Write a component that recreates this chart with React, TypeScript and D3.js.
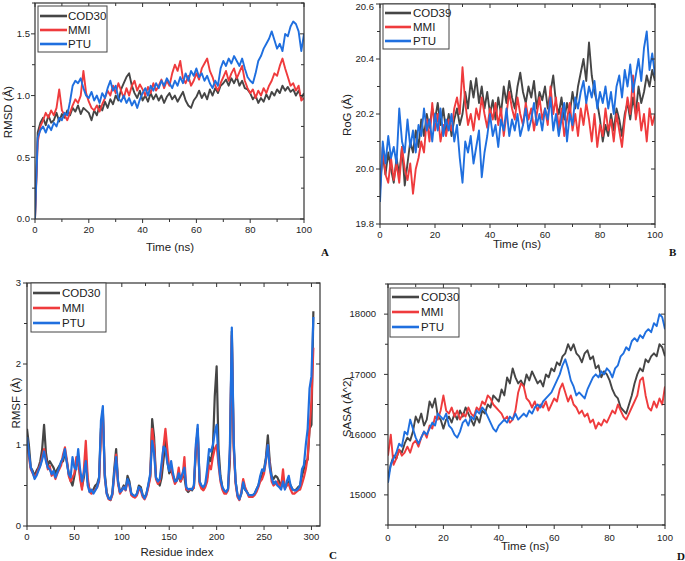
import React from "react";
import * as d3 from "d3";

// ---------- data ----------
const timeNs = d3.range(0, 101);
const residues = d3.range(0, 304, 2);

const legendA = ["COD30", "MMI", "PTU"];
const legendB = ["COD39", "MMI", "PTU"];
const legendC = ["COD30", "MMI", "PTU"];
const legendD = ["COD30", "MMI", "PTU"];

const colors = ["#454545", "#ef3b3d", "#1f6fdf"];

// RMSD (Å)
const rmsdCOD30 = [
  0.0, 0.7, 0.78, 0.82, 0.76, 0.84, 0.78, 0.8, 0.86, 0.79,
  0.85, 0.82, 0.88, 0.84, 0.9, 0.87, 0.92, 0.85, 0.9, 0.88,
  0.86, 0.8, 0.88, 0.84, 0.92, 0.88, 0.95, 0.9, 0.97, 0.93,
  1.0, 0.96, 1.05, 1.1, 1.15, 1.18, 1.08, 1.02, 0.98, 1.04,
  0.96, 1.0, 0.95, 1.02, 0.97, 1.01, 0.96, 1.0, 0.94, 0.99,
  1.02, 0.97, 1.0, 0.95, 0.99, 1.03, 0.96, 0.92, 0.9, 0.96,
  0.99, 1.04, 0.98, 1.02, 0.97, 1.05, 1.0, 1.06, 1.02, 1.08,
  1.1, 1.13, 1.08, 1.14, 1.1, 1.15, 1.08, 1.12, 1.06, 1.05,
  1.02, 0.97, 1.0, 0.94, 0.98, 0.95, 1.01, 0.97, 1.03, 1.0,
  1.05, 1.02, 1.08, 1.04, 1.07, 1.03, 1.05, 1.0, 1.04, 0.98,
  1.02,
];
const rmsdMMI = [
  0.0, 0.62, 0.75, 0.8, 0.86, 0.82, 0.88, 0.84, 0.9, 1.05,
  0.88, 0.84, 0.8, 0.86, 0.92, 0.97, 0.94, 1.0, 1.2, 1.02,
  0.95, 0.9, 0.88, 0.92, 0.87, 0.93, 0.98, 1.04, 1.0, 1.08,
  1.02, 1.1, 1.04, 0.98, 1.06, 1.0, 1.08, 1.12, 1.04, 1.09,
  1.05, 1.0, 1.07, 1.02, 1.1, 1.04, 1.08, 1.13, 1.06, 1.12,
  1.08, 1.18, 1.25, 1.2, 1.28, 1.14, 1.1, 1.16, 1.08, 1.12,
  1.18, 1.13, 1.22, 1.26, 1.3, 1.2, 1.15, 1.08, 1.04, 1.1,
  1.15, 1.2, 1.12, 1.18, 1.22, 1.14, 1.19, 1.24, 1.12, 1.06,
  1.02, 1.05, 0.98, 1.04, 1.0, 1.06, 1.02, 1.08, 1.12, 1.18,
  1.16, 1.24, 1.3, 1.22, 1.15, 1.08, 1.1, 1.04, 1.08, 0.96,
  0.98,
];
const rmsdPTU = [
  0.0, 0.66, 0.72, 0.75, 0.7, 0.76, 0.72, 0.78, 0.75, 0.82,
  0.8, 0.86, 0.84, 0.95, 1.08, 1.12, 1.1, 1.14, 1.06, 1.0,
  0.98, 1.03, 0.96, 1.0, 0.94, 1.02, 0.98, 1.06, 1.12, 1.04,
  1.08, 0.98, 0.95, 1.0, 0.94, 0.98, 0.92, 0.96, 0.9, 0.97,
  1.02, 1.06, 1.0, 1.08, 1.04, 1.1, 1.06, 1.12, 1.08, 1.14,
  1.1, 1.06, 1.12, 1.08, 1.15, 1.1, 1.18, 1.12, 1.2, 1.16,
  1.22, 1.15, 1.18, 1.12, 1.16, 1.1, 1.06, 1.12, 1.08, 1.22,
  1.28, 1.24, 1.3, 1.26, 1.32, 1.28, 1.24, 1.3, 1.22, 1.15,
  1.12, 1.1, 1.18, 1.28, 1.32, 1.38, 1.42, 1.46, 1.52, 1.45,
  1.38, 1.42, 1.36, 1.5, 1.48, 1.56, 1.6, 1.58, 1.52, 1.36,
  1.5,
];

// RoG (Å)
const rogCOD39 = [
  19.95, 20.05, 19.98, 20.06, 20.0, 19.95, 20.04, 19.98, 20.08, 19.94,
  20.02, 20.1, 20.06, 20.14, 20.08, 20.18, 20.12, 20.2, 20.15, 20.22,
  20.18, 20.24, 20.16, 20.22, 20.14, 20.2, 20.12, 20.18, 20.22, 20.16,
  20.2, 20.28, 20.22, 20.32, 20.26, 20.33, 20.24, 20.3, 20.22, 20.28,
  20.2, 20.25, 20.18, 20.26, 20.2, 20.3, 20.24, 20.32, 20.26, 20.22,
  20.3, 20.35, 20.28, 20.24, 20.3, 20.26, 20.32, 20.22, 20.28, 20.25,
  20.3, 20.22, 20.28, 20.34, 20.24, 20.2, 20.26, 20.18, 20.24, 20.2,
  20.28, 20.22, 20.3, 20.35, 20.4, 20.32, 20.46, 20.34, 20.28, 20.24,
  20.18, 20.1, 20.16, 20.12, 20.2, 20.14, 20.22, 20.18, 20.12, 20.2,
  20.24, 20.18, 20.26, 20.2, 20.3, 20.24, 20.28, 20.34, 20.3, 20.36,
  20.32,
];
const rogMMI = [
  19.92, 20.08, 19.98, 19.95, 20.04, 19.96, 20.02, 19.95, 20.08, 20.0,
  19.96, 20.02, 19.91, 20.0, 20.04, 20.1, 20.06, 20.18, 20.1, 20.24,
  20.14, 20.2, 20.1, 20.16, 20.12, 20.18, 20.14, 20.22, 20.26, 20.2,
  20.37, 20.24, 20.16, 20.2, 20.14, 20.22, 20.18, 20.26, 20.2, 20.15,
  20.22, 20.18, 20.24, 20.16, 20.22, 20.12, 20.2, 20.28, 20.22, 20.18,
  20.26, 20.2, 20.16, 20.24, 20.18, 20.22, 20.14, 20.2, 20.26, 20.18,
  20.22, 20.16, 20.3, 20.2, 20.26, 20.14, 20.22, 20.12, 20.18, 20.24,
  20.14, 20.2, 20.12, 20.22, 20.16, 20.24, 20.18, 20.1, 20.2, 20.08,
  20.16, 20.12, 20.22, 20.14, 20.18, 20.1, 20.2, 20.14, 20.08, 20.18,
  20.26, 20.2, 20.34, 20.18, 20.24, 20.14, 20.2, 20.1, 20.22, 20.16,
  20.2,
];
const rogPTU = [
  19.88, 20.1, 20.02, 20.12, 20.04, 20.08, 20.02, 20.22, 20.1, 20.06,
  20.18, 20.08, 20.14, 20.06, 20.16, 20.12, 20.22, 20.14, 20.18, 20.1,
  20.2, 20.14, 20.22, 20.12, 20.18, 20.14, 20.2, 20.1, 20.16, 20.04,
  19.95, 20.1, 20.06, 20.12, 20.02, 20.08, 20.14, 19.97, 20.06, 20.12,
  20.2, 20.12, 20.16, 20.08, 20.18, 20.14, 20.22, 20.12, 20.18, 20.14,
  20.2, 20.12, 20.16, 20.22, 20.14, 20.18, 20.24, 20.16, 20.2, 20.14,
  20.22, 20.18, 20.26, 20.14, 20.2, 20.12, 20.18, 20.24, 20.1, 20.2,
  20.16, 20.26, 20.22, 20.28, 20.32, 20.24, 20.3, 20.26, 20.32, 20.22,
  20.28, 20.24, 20.3, 20.22, 20.28, 20.2, 20.3, 20.34, 20.26, 20.36,
  20.3, 20.38, 20.28, 20.34, 20.4, 20.32, 20.44, 20.5, 20.36, 20.42,
  20.34,
];

// RMSF (Å), residues 0..302 step 2
const rmsfCOD30 = [
  1.2, 1.0, 0.72, 0.68, 0.62, 0.68, 0.72, 0.8, 0.95, 1.25,
  0.9, 0.75, 0.8, 0.76, 0.72, 0.65, 0.7, 0.74, 0.78, 0.8,
  0.9, 0.8, 0.65, 0.56, 0.5, 0.62, 0.75, 0.8, 0.62, 0.48,
  0.6, 0.85, 0.55, 0.45, 0.42, 0.45, 0.5, 0.52, 0.6, 1.2,
  1.42, 0.65, 0.42, 0.35, 0.32, 0.4, 0.7, 0.95, 0.55, 0.42,
  0.45, 0.5, 0.45, 0.62, 0.55, 0.4, 0.38, 0.36, 0.4, 0.5,
  0.48, 0.38, 0.35, 0.4, 0.5, 0.62, 1.32, 1.1, 0.6, 0.55,
  0.5, 0.6, 0.82, 1.05, 0.8, 0.65, 0.7, 0.62, 0.55, 0.58,
  0.6, 0.55, 0.62, 0.6, 0.45, 0.42, 0.45, 0.44, 0.48, 0.9,
  1.2, 0.55, 0.48, 0.45, 0.5, 0.6, 0.85, 0.8, 0.95, 1.6,
  1.97, 0.95, 0.62, 0.48, 0.42, 0.42, 0.45, 0.8, 2.4, 1.0,
  0.55, 0.38, 0.33, 0.4, 0.52, 0.45, 0.42, 0.38, 0.38, 0.38,
  0.4, 0.45, 0.5, 0.58, 0.62, 0.7, 0.85, 1.12, 0.8, 0.62,
  0.58, 0.62, 0.6, 0.55, 0.5, 0.55, 0.48, 0.5, 0.55, 0.5,
  0.45, 0.44, 0.45, 0.48, 0.5, 0.62, 0.7, 0.8, 0.82, 1.2,
  1.25, 2.65,
];
const rmsfMMI = [
  1.05, 0.85, 0.7, 0.65, 0.6, 0.64, 0.7, 0.75, 0.85, 0.95,
  0.82, 0.7, 0.74, 0.62, 0.66, 0.58, 0.65, 0.7, 0.75, 0.88,
  0.97, 0.82, 0.62, 0.55, 0.6, 0.65, 0.85, 0.85, 0.58, 0.45,
  0.7, 1.05, 0.6, 0.42, 0.4, 0.42, 0.45, 0.48, 0.55, 1.15,
  1.4, 0.6, 0.4, 0.33, 0.32, 0.38, 0.62, 0.88, 0.52, 0.4,
  0.44, 0.48, 0.44, 0.55, 0.5, 0.38, 0.36, 0.35, 0.38, 0.45,
  0.44, 0.36, 0.33, 0.38, 0.48, 0.6, 1.2, 1.0, 0.58, 0.52,
  0.55, 0.72, 0.98, 1.2, 0.95, 0.7, 0.72, 0.6, 0.52, 0.56,
  0.72, 0.55, 0.6, 0.85, 0.45, 0.44, 0.45, 0.46, 0.47, 0.95,
  1.18, 0.52, 0.46, 0.44, 0.48, 0.55, 0.75, 0.7, 0.85, 0.95,
  1.0, 0.75, 0.55, 0.45, 0.4, 0.4, 0.44, 0.9, 2.35, 0.95,
  0.52, 0.36, 0.32, 0.42, 0.58, 0.48, 0.42, 0.36, 0.36, 0.36,
  0.38, 0.42, 0.48, 0.55, 0.58, 0.65, 0.8, 1.0, 0.75, 0.55,
  0.5, 0.52, 0.55, 0.5, 0.48, 0.7, 0.46, 0.5, 0.52, 0.45,
  0.4, 0.4, 0.42, 0.44, 0.45, 0.52, 0.6, 0.7, 0.85, 1.2,
  1.55, 2.2,
];
const rmsfPTU = [
  1.1, 0.9, 0.72, 0.66, 0.58, 0.62, 0.68, 0.74, 0.82, 0.92,
  0.8, 0.72, 0.7, 0.64, 0.68, 0.6, 0.66, 0.72, 0.8, 0.84,
  0.95, 0.78, 0.64, 0.6, 0.85, 0.72, 0.7, 0.95, 0.7, 0.55,
  0.65, 0.8, 0.5, 0.42, 0.45, 0.4, 0.44, 0.48, 0.58, 1.3,
  1.48, 0.62, 0.4, 0.34, 0.33, 0.4, 0.65, 0.85, 0.55, 0.42,
  0.44, 0.48, 0.45, 0.58, 0.52, 0.4, 0.38, 0.37, 0.4, 0.48,
  0.46, 0.38, 0.34, 0.4, 0.52, 0.65, 1.05, 0.9, 0.6, 0.55,
  0.58, 0.78, 0.98, 0.95, 0.78, 0.68, 0.8, 0.65, 0.55, 0.56,
  0.65, 0.58, 0.65, 0.72, 0.48, 0.45, 0.46, 0.45, 0.5, 1.0,
  1.25, 0.55, 0.5, 0.48, 0.52, 0.7, 0.95, 0.92, 1.0, 1.15,
  1.25, 0.8, 0.58, 0.48, 0.44, 0.42, 0.46, 1.0, 2.45, 1.05,
  0.55, 0.38, 0.33, 0.4, 0.54, 0.45, 0.42, 0.38, 0.38, 0.38,
  0.4, 0.45, 0.5, 0.62, 0.7, 0.68, 0.82, 1.0, 0.72, 0.6,
  0.52, 0.55, 0.5, 0.48, 0.45, 0.55, 0.45, 0.55, 0.62, 0.5,
  0.45, 0.44, 0.44, 0.46, 0.5, 0.7, 0.75, 1.0, 1.2, 1.7,
  1.85, 2.58,
];

// SASA (Å^2)
const sasaCOD30 = [
  15300, 15500, 15650, 15600, 15750, 15700, 15850, 15950, 15900, 16050,
  16300, 16200, 16350, 16150, 16250, 16550, 16450, 16600, 16300, 16250,
  16100, 16250, 16300, 16200, 16350, 16250, 16400, 16300, 16450, 16350,
  16250, 16150, 16300, 16200, 16400, 16350, 16500, 16450, 16650, 16600,
  16550, 16750, 16650, 16950, 16850, 17100, 16950, 16850, 16900, 16800,
  17000, 16900, 17050, 16950, 16850, 16900, 16800, 17000, 16950, 17100,
  17050, 17200, 17150, 17300, 17350, 17500, 17400, 17500, 17350, 17300,
  17200, 17350, 17400, 17250, 17300, 17100, 17150, 16950, 17050, 17000,
  16900, 16750, 16650, 16600, 16450, 16400, 16350, 16500, 16650, 16850,
  17000, 17100, 17050, 17250, 17200, 17300, 17350, 17300, 17500, 17450,
  17300,
];
const sasaMMI = [
  15650, 16000, 15500, 15600, 15750, 15650, 15700, 15800, 15700, 15850,
  15900, 15800, 15950, 16050, 15950, 16150, 16100, 16300, 16250, 16400,
  16650, 16400, 16350, 16450, 16300, 16400, 16250, 16350, 16300, 16450,
  16350, 16300, 16450, 16400, 16550, 16500, 16650, 16600, 16500, 16450,
  16400, 16350, 16250, 16300, 16200, 16250, 16400, 16700, 16850, 16800,
  16600, 16550, 16450, 16550, 16400, 16500, 16450, 16550, 16400, 16500,
  16600, 16550, 16750, 16850, 16700, 16550, 16650, 16500, 16450, 16350,
  16400, 16300, 16350, 16200, 16250, 16100, 16200, 16150, 16250, 16200,
  16300, 16400, 16350, 16500, 16400, 16300, 16250, 16350, 16450, 16550,
  16650, 16900, 16950, 16650, 16450, 16400, 16550, 16450, 16600, 16500,
  16800,
];
const sasaPTU = [
  15200, 15500, 15600, 15700, 15850, 15800, 16050, 16000, 16250, 16100,
  15950, 15850, 15950, 16050, 16000, 16100, 16200, 16150, 16350, 16300,
  16250, 16350, 16150, 16100, 16000, 15950, 16050, 16200, 16250, 16150,
  16300, 16250, 16400, 16350, 16450, 16400, 16300, 16200, 16100, 16050,
  16150, 16200, 16250, 16200, 16300, 16250, 16350, 16250, 16300, 16350,
  16300, 16400, 16350, 16450, 16500, 16450, 16550, 16600, 16650, 16700,
  16800, 16900, 17000, 17150, 17250, 17100, 16900, 16800, 16650, 16700,
  16650, 16600, 16750, 16850, 16950, 17000, 16950, 17050, 17000, 17100,
  17050, 16950, 17100, 17150, 17300, 17350, 17450, 17400, 17550, 17600,
  17550, 17650, 17600, 17700, 17750, 17700, 17850, 17800, 18000, 17950,
  17750,
];

const ticksRMSD = [0, 0.5, 1.0, 1.5];
const ticksRoG = [19.8, 20.0, 20.2, 20.4, 20.6];
const ticksRMSF = [0, 1, 2, 3];
const ticksSASA = [15000, 16000, 17000, 18000];
const ticksTime = [0, 20, 40, 60, 80, 100];
const ticksResidue = [0, 50, 100, 150, 200, 250, 300];

// ---------- drawing ----------
const SANS = "'Liberation Sans', Arial, sans-serif";
const SERIF = "'Liberation Serif', 'Times New Roman', serif";

type PanelProps = {
  id: string;
  box: [number, number, number, number]; // left, top, right, bottom
  xDomain: [number, number];
  yDomain: [number, number];
  xTicks: number[];
  yTicks: number[];
  xMinorStep: number;
  yMinorStep: number;
  yFmt: (v: number) => string;
  xs: number[];
  series: number[][];
  names: string[];
  xTitle: string;
  yTitle: string;
  xTitlePos: [number, number];
  yTitlePos: [number, number];
  letter: string;
  letterPos: [number, number];
  legend: { x0: number; y0: number; x1: number; y1: number; rows: number[]; lineX: [number, number]; textX: number };
  xLabelY: number;
  yLabelX: number;
  lineWidth: number;
};

function Panel(p: PanelProps) {
  const [L, T, R, B] = p.box;
  const x = d3.scaleLinear().domain(p.xDomain).range([L, R]);
  const y = d3.scaleLinear().domain(p.yDomain).range([B, T]);
  const line = d3
    .line<number>()
    .x((_, i) => x(p.xs[i]))
    .y((d) => y(d));
  const xMinor = d3.range(p.xDomain[0], p.xDomain[1] + 1e-9, p.xMinorStep);
  const yStart = Math.ceil(p.yDomain[0] / p.yMinorStep - 1e-9) * p.yMinorStep;
  const yMinor = d3.range(yStart, p.yDomain[1] + 1e-9, p.yMinorStep);
  const isMajorX = (v: number) => p.xTicks.some((t) => Math.abs(t - v) < 1e-6);
  const isMajorY = (v: number) => p.yTicks.some((t) => Math.abs(t - v) < 1e-6);
  const tc = "#333";
  return (
    <g>
      <defs>
        <clipPath id={"clip" + p.id}>
          <rect x={L} y={T} width={R - L} height={B - T} />
        </clipPath>
      </defs>
      <g clipPath={`url(#clip${p.id})`}>
        {p.series.map((s, i) => (
          <path key={i} d={line(s) || ""} fill="none" stroke={colors[i]} strokeWidth={p.lineWidth} strokeLinejoin="round" />
        ))}
      </g>
      <rect x={L} y={T} width={R - L} height={B - T} fill="none" stroke={tc} strokeWidth={1.2} />
      {xMinor.map((v, i) => {
        const len = isMajorX(v) ? 4 : 3;
        const xv = x(v);
        return (
          <g key={"xt" + i}>
            <line x1={xv} x2={xv} y1={B} y2={B + len} stroke={tc} strokeWidth={1} />
            <line x1={xv} x2={xv} y1={T} y2={T + len} stroke={tc} strokeWidth={1} />
          </g>
        );
      })}
      {yMinor.map((v, i) => {
        const len = isMajorY(v) ? 4 : 3;
        const yv = y(v);
        return (
          <g key={"yt" + i}>
            <line x1={L - len} x2={L} y1={yv} y2={yv} stroke={tc} strokeWidth={1} />
            <line x1={R - len} x2={R} y1={yv} y2={yv} stroke={tc} strokeWidth={1} />
          </g>
        );
      })}
      {p.xTicks.map((v) => (
        <text key={"xl" + v} x={x(v)} y={p.xLabelY} textAnchor="middle" fontSize={9.5} fontFamily={SANS} fill="#222">
          {v}
        </text>
      ))}
      {p.yTicks.map((v) => (
        <text
          key={"yl" + v}
          x={p.yLabelX}
          y={Math.max(y(v) + 3.3, 9.5)}
          textAnchor="end"
          fontSize={9.5}
          fontFamily={SANS}
          fill="#222"
        >
          {p.yFmt(v)}
        </text>
      ))}
      <text x={p.xTitlePos[0]} y={p.xTitlePos[1]} textAnchor="middle" fontSize={11.5} fontFamily={SANS} fill="#222">
        {p.xTitle}
      </text>
      <text
        transform={`translate(${p.yTitlePos[0]},${p.yTitlePos[1]}) rotate(-90)`}
        textAnchor="middle"
        fontSize={11.5}
        fontFamily={SANS}
        fill="#222"
      >
        {p.yTitle}
      </text>
      <rect
        x={p.legend.x0}
        y={p.legend.y0}
        width={p.legend.x1 - p.legend.x0}
        height={p.legend.y1 - p.legend.y0}
        fill="white"
        stroke="#444"
        strokeWidth={1}
      />
      {p.names.map((n, i) => (
        <g key={"lg" + i}>
          <line
            x1={p.legend.lineX[0]}
            x2={p.legend.lineX[1]}
            y1={p.legend.rows[i]}
            y2={p.legend.rows[i]}
            stroke={colors[i]}
            strokeWidth={2.6}
          />
          <text x={p.legend.textX} y={p.legend.rows[i] + 4} fontSize={11.5} fontFamily={SANS} fill="#222">
            {n}
          </text>
        </g>
      ))}
      <text x={p.letterPos[0]} y={p.letterPos[1]} fontSize={11} fontWeight="bold" fontFamily={SERIF} fill="#111">
        {p.letter}
      </text>
    </g>
  );
}

export default function App() {
  return (
    <div style={{ position: "absolute", left: 0, top: 0 }}>
      <svg width={685} height={561} style={{ display: "block", background: "white" }}>
        <Panel
          id="A"
          box={[35, 3, 304, 219]}
          xDomain={[0, 100]}
          yDomain={[0, 1.75]}
          xTicks={ticksTime}
          yTicks={ticksRMSD}
          xMinorStep={10}
          yMinorStep={0.25}
          yFmt={d3.format(".1f")}
          xs={timeNs}
          series={[rmsdCOD30, rmsdMMI, rmsdPTU]}
          names={legendA}
          xTitle="Time (ns)"
          yTitle="RMSD (Å)"
          xTitlePos={[170, 251]}
          yTitlePos={[12, 112]}
          letter="A"
          letterPos={[321, 256]}
          legend={{ x0: 38, y0: 6, x1: 107, y1: 52, rows: [16, 30, 44], lineX: [40, 67], textX: 68 }}
          xLabelY={233}
          yLabelX={30}
          lineWidth={1.9}
        />
        <Panel
          id="B"
          box={[380, 4, 655, 224]}
          xDomain={[0, 100]}
          yDomain={[19.8, 20.6]}
          xTicks={ticksTime}
          yTicks={ticksRoG}
          xMinorStep={10}
          yMinorStep={0.1}
          yFmt={d3.format(".1f")}
          xs={timeNs}
          series={[rogCOD39, rogMMI, rogPTU]}
          names={legendB}
          xTitle="Time (ns)"
          yTitle="RoG (Å)"
          xTitlePos={[517, 248]}
          yTitlePos={[351, 115]}
          letter="B"
          letterPos={[669, 256]}
          legend={{ x0: 383, y0: 4, x1: 449, y1: 49, rows: [13, 27, 41], lineX: [385, 411], textX: 413 }}
          xLabelY={238}
          yLabelX={374}
          lineWidth={1.9}
        />
        <Panel
          id="C"
          box={[27, 283, 320, 526]}
          xDomain={[0, 309]}
          yDomain={[0, 3]}
          xTicks={ticksResidue}
          yTicks={ticksRMSF}
          xMinorStep={25}
          yMinorStep={0.5}
          yFmt={d3.format("d")}
          xs={residues}
          series={[rmsfCOD30, rmsfMMI, rmsfPTU]}
          names={legendC}
          xTitle="Residue index"
          yTitle="RMSF (Å)"
          xTitlePos={[177, 556]}
          yTitlePos={[20, 403]}
          letter="C"
          letterPos={[329, 559]}
          legend={{ x0: 31, y0: 283, x1: 106, y1: 332, rows: [293, 308, 323], lineX: [33, 60], textX: 62 }}
          xLabelY={540}
          yLabelX={21}
          lineWidth={2.2}
        />
        <Panel
          id="D"
          box={[388, 284, 665, 525]}
          xDomain={[0, 100]}
          yDomain={[14500, 18500]}
          xTicks={ticksTime}
          yTicks={ticksSASA}
          xMinorStep={10}
          yMinorStep={500}
          yFmt={d3.format("d")}
          xs={timeNs}
          series={[sasaCOD30, sasaMMI, sasaPTU]}
          names={legendD}
          xTitle="Time (ns)"
          yTitle="SASA (Å^2)"
          xTitlePos={[525, 550]}
          yTitlePos={[351, 407]}
          letter="D"
          letterPos={[677, 560]}
          legend={{ x0: 390, y0: 288, x1: 459, y1: 337, rows: [297, 312, 327], lineX: [392, 419], textX: 421 }}
          xLabelY={541}
          yLabelX={376}
          lineWidth={1.9}
        />
      </svg>
    </div>
  );
}
